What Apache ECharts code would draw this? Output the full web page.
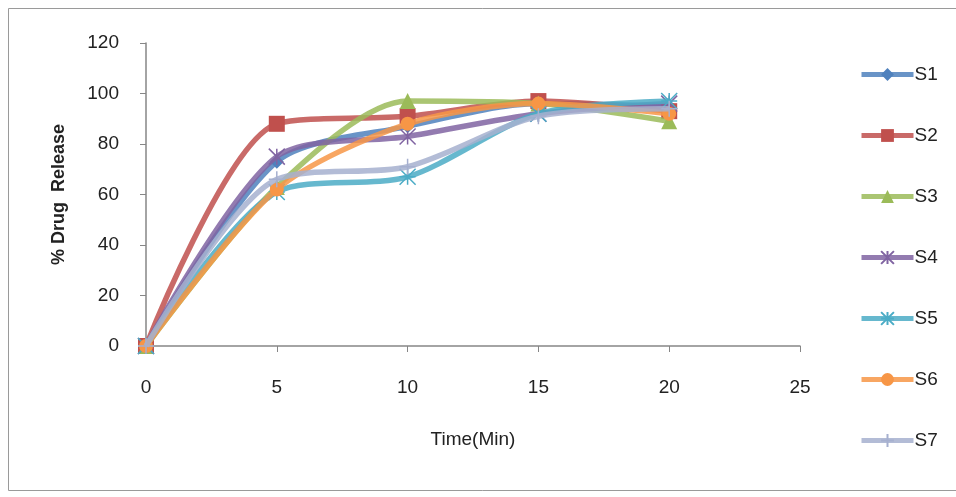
<!DOCTYPE html>
<html><head><meta charset="utf-8">
<script src="https://cdn.jsdelivr.net/npm/echarts@6/dist/echarts.min.js"></script>
<style>html,body{margin:0;padding:0;background:#fff}#c{width:956px;height:497px}</style>
</head><body><div id="c"></div>
<script>
const times = [0, 5, 10, 15, 20];
const seriesNames = ['S1','S2','S3','S4','S5','S6','S7'];
const s1 = [0, 73, 87, 96, 95];
const s2 = [0, 88, 91, 97, 93];
const s3 = [0, 63, 97, 96, 89];
const s4 = [0, 75, 83, 92, 96];
const s5 = [0, 61, 67, 92, 97];
const s6 = [0, 62, 88, 96, 92];
const s7 = [0, 66, 71, 91, 94];
const colors = ['#4F81BD','#C0504D','#9BBB59','#8064A2','#4BACC6','#F79646','#A6B0CF'];
const symbols = ['diamond','rect','triangle',
  'path://M0,0L10,10M10,0L0,10M5,0L5,10',
  'path://M0,0L10,10M10,0L0,10M5,0L5,10M0,5L10,5',
  'circle',
  'path://M5,0L5,10M3,5L7,5'];
const symSizes = [14, 16, 16, 16, 16, 14, 16];
const allData = [s1,s2,s3,s4,s5,s6,s7];

const font = 'Liberation Sans';
const chart = echarts.init(document.getElementById('c'));
chart.setOption({
  animation: false,
  backgroundColor: '#fff',
  graphic: [{type:'rect', shape:{x:8.5,y:8.5,width:960,height:482}, style:{fill:'none', stroke:'#9a9a9a', lineWidth:1}, silent:true}],
  grid: {left:146, right:156, top:43, bottom:151},
  xAxis: {
    type:'value', min:0, max:25, interval:5,
    name:'Time(Min)', nameLocation:'middle', nameGap:84,
    nameTextStyle:{fontFamily:font, fontSize:19, color:'#222'},
    axisLine:{show:true, lineStyle:{color:'#868686', width:1.5}},
    axisTick:{show:true, length:6, lineStyle:{color:'#868686'}},
    axisLabel:{fontFamily:font, fontSize:19, color:'#222', margin:32},
    splitLine:{show:false}
  },
  yAxis: {
    type:'value', min:0, max:120, interval:20,
    name:'% Drug  Release', nameLocation:'middle', nameGap:78,
    nameTextStyle:{fontFamily:font, fontSize:18, fontWeight:'bold', color:'#222'},
    axisLine:{show:true, lineStyle:{color:'#868686', width:1.5}},
    axisTick:{show:true, length:6, lineStyle:{color:'#868686'}},
    axisLabel:{fontFamily:font, fontSize:19, color:'#222', margin:27},
    splitLine:{show:false}
  },
  legend: {
    orient:'vertical', left:854, top:60,
    itemWidth:52, itemHeight:16, itemGap:42,
    lineStyle:{width:5},
    textStyle:{fontFamily:font, fontSize:19, color:'#222', padding:[0,0,0,-4]},
    data: seriesNames
  },
  series: seriesNames.map((n,i)=>({
    name:n, type:'line', smooth:0.28,
    data: times.map((t,j)=>[t, allData[i][j]]),
    symbol: symbols[i], symbolSize: symSizes[i],
    lineStyle:{width:5.5, color:colors[i], opacity:0.85},
    itemStyle:{color:colors[i], borderColor:colors[i], borderWidth: (i===3||i===4||i===6)?1.5:0},
    z: 2 + i
  }))
});
</script></body></html>
